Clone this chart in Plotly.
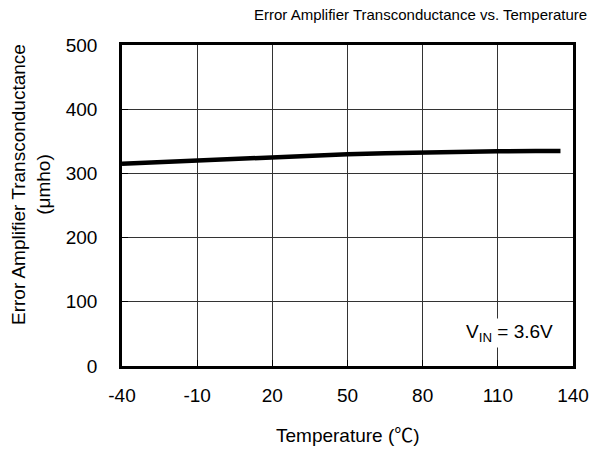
import plotly.graph_objects as go

temperature = [-40, -25, -10, 5, 20, 35, 50, 65, 80, 95, 110, 125, 135]
gm = [315, 317.5, 320, 323, 326, 328, 330, 331.5, 333, 334, 334.5, 335, 335]

x_ticks = [-40, -10, 20, 50, 80, 110, 140]
x_tick_text = ["-40", "-10", "20", "50", "80", "110", "140"]
y_ticks = [0, 100, 200, 300, 400, 500]
y_tick_text = ["0", "100", "200", "300", "400", "500"]

font = "Liberation Sans, Arial, Noto Sans CJK SC, sans-serif"
W, H = 593, 450
L, R, T, B = 122, 20, 45, 84
pw, ph = W - L - R, H - T - B


def px_x(px):
    return (px - L) / pw


def px_y(py):
    return (H - B - py) / ph


fig = go.Figure()
fig.add_trace(go.Scatter(x=temperature, y=gm, mode="lines",
                         line=dict(color="black", width=4.5), showlegend=False))

axis_common = dict(showgrid=True, gridcolor="#333", gridwidth=1, showline=True,
                   linecolor="black", linewidth=2.5, mirror=True,
                   ticks="inside", ticklen=6, tickcolor="black",
                   zeroline=False, automargin=False,
                   tickfont=dict(size=19, family=font, color="black"))

fig.update_layout(
    width=W, height=H,
    margin=dict(l=L, r=R, t=T, b=B),
    paper_bgcolor="white", plot_bgcolor="white",
    font=dict(family=font, size=19, color="black"),
    xaxis=dict(range=[-40, 140], tickvals=x_ticks, ticktext=x_tick_text,
               ticklabelstandoff=10, **axis_common),
    yaxis=dict(range=[0, 500], tickvals=y_ticks, ticktext=y_tick_text,
               ticklabelstandoff=18, **axis_common),
)

# chart title
fig.add_annotation(x=px_x(420), y=px_y(15), xref="paper", yref="paper",
                   xanchor="center", yanchor="middle", showarrow=False,
                   text="Error Amplifier Transconductance vs. Temperature",
                   font=dict(size=15, family=font, color="black"))
# x axis title
fig.add_annotation(x=px_x(348), y=px_y(435), xref="paper", yref="paper",
                   xanchor="center", yanchor="middle", showarrow=False,
                   text="Temperature (℃)",
                   font=dict(size=19, family=font, color="black"))
# y axis title
fig.add_annotation(x=px_x(31), y=px_y(185), xref="paper", yref="paper",
                   xanchor="center", yanchor="middle", showarrow=False,
                   textangle=-90,
                   text="Error Amplifier Transconductance<br>(μmho)",
                   font=dict(size=19, family=font, color="black"))
# condition label
fig.add_annotation(x=px_x(556), y=px_y(333), xref="paper", yref="paper",
                   xanchor="right", yanchor="middle",
                   text="V<sub>IN</sub> = 3.6V", showarrow=False,
                   bgcolor="white", font=dict(size=19, family=font, color="black"),
                   borderpad=2)

fig.write_html("out.html",
               config={"displayModeBar": False},
               post_script="document.body.style.margin='0';"
                           "document.body.style.overflow='hidden';")
